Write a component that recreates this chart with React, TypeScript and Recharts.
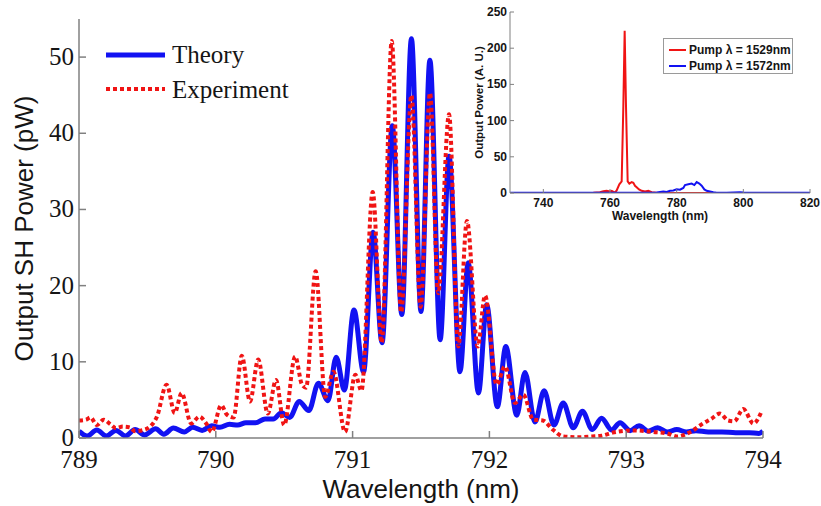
import React from 'react';
import { LineChart, Line, XAxis, YAxis, Legend } from 'recharts';

// main plot: SH power vs wavelength
const theoryWavelength = [
  789.0, 789.06, 789.13, 789.2, 789.27, 789.34, 789.41, 789.48, 789.56, 789.62,
  789.69, 789.77, 789.83, 789.9, 789.97, 790.03, 790.1, 790.16, 790.22, 790.29,
  790.36, 790.42, 790.48, 790.54, 790.61, 790.68, 790.75, 790.82, 790.88, 790.94,
  791.01, 791.08, 791.15, 791.215, 791.29, 791.36, 791.43, 791.5, 791.565, 791.64,
  791.705, 791.785, 791.845, 791.92, 791.98, 792.058, 792.12, 792.2, 792.26, 792.333,
  792.4, 792.472, 792.54, 792.613, 792.68, 792.752, 792.82, 792.893, 792.955, 793.028,
  793.094, 793.16, 793.23, 793.3, 793.37, 793.44, 793.51, 793.6, 793.7, 793.8,
  793.9, 793.97, 794.0,
];
const theoryPower = [
  0.9, 0.26, 1.05, 0.26, 1.0, 0.26, 1.1, 0.4, 1.2, 0.5,
  1.3, 0.8, 1.4, 1.0, 1.6, 1.4, 1.8, 1.7, 2.0, 2.0,
  2.5, 2.5, 3.3, 2.7, 4.8, 3.6, 7.2, 4.9, 10.6, 6.3,
  16.8, 8.7, 27, 12.5, 41, 16.2, 52.4, 16.6, 49.6, 12.9,
  37, 8.7, 23, 5.9, 17.5, 4.1, 12, 3.0, 8.6, 2.1,
  6.2, 1.7, 4.6, 1.35, 3.5, 1.1, 2.6, 1.05, 2.0, 0.96,
  1.6, 0.9, 1.35, 0.8, 1.1, 0.8, 0.95, 0.8, 0.8, 0.7,
  0.7, 0.6, 0.9,
];

const experimentWavelength = [
  789.0, 789.05, 789.085, 789.13, 789.18, 789.23, 789.27, 789.32, 789.37, 789.41,
  789.48, 789.52, 789.57, 789.64, 789.7, 789.75, 789.82, 789.88, 789.93, 789.97,
  790.04, 790.08, 790.13, 790.19, 790.25, 790.31, 790.38, 790.44, 790.5, 790.58,
  790.63, 790.66, 790.73, 790.8, 790.86, 790.945, 791.02, 791.065, 791.147, 791.213,
  791.286, 791.355, 791.43, 791.497, 791.566, 791.626, 791.705, 791.773, 791.836, 791.915,
  791.968, 792.053, 792.114, 792.187, 792.248, 792.32, 792.39, 792.467, 792.54, 792.65,
  792.75, 792.82, 792.9, 793.05, 793.2, 793.3, 793.37, 793.47, 793.56, 793.62,
  793.685, 793.746, 793.79, 793.856, 793.93, 793.99,
];
const experimentPower = [
  2.3, 2.4, 2.7, 1.7, 2.4, 1.8, 1.3, 1.5, 1.4, 0.9,
  1.1, 1.5, 2.8, 7.0, 3.3, 5.9, 1.9, 2.8, 1.9, 0.8,
  4.3, 3.1, 2.7, 10.8, 4.8, 10.3, 3.2, 7.6, 1.7, 10.7,
  7.0, 6.6, 21.9, 5.4, 8.7, 0.8, 8.3, 6.2, 32.3, 12.5,
  52.1, 16.5, 45, 17.2, 45.3, 19, 42.5, 12, 28.5, 12,
  18.7, 7.0, 9.4, 4.6, 5.7, 2.4, 2.3, 1.05, 0.2, 0.1,
  0.2, 0.3, 0.7, 1.0, 0.8, 0.6, 0.2, 0.8, 1.9, 2.5,
  3.2, 2.3, 2.2, 3.8, 1.9, 3.5,
];

const mainXTicks = [789, 790, 791, 792, 793, 794];
const mainYTicks = [0, 10, 20, 30, 40, 50];

// inset: output power for the two pump wavelengths
const pump1529Wavelength = [
  730, 740, 750, 755, 757, 758, 759, 760, 760.5, 761.5, 762, 762.8, 763.5, 764,
  764.4, 764.8, 765.3, 765.8, 766.5, 767, 767.5, 768, 768.7, 769.5, 770.5, 771.5,
  772.5, 774, 776, 790, 800, 820,
];
const pump1529Power = [
  0, 0, 0, 0.3, 1, 2.5, 3, 2, 3, 0.5, 3.5, 12, 16, 120,
  224, 120, 16, 13, 15, 14, 10, 8, 5, 3, 2, 3,
  1, 0.3, 0, 0, 0, 0,
];
const pump1572Wavelength = [
  730, 750, 760, 770, 774, 776, 777, 778, 779, 780, 781, 782, 782.5, 783.5,
  784.5, 785.3, 786, 786.8, 787.5, 788.3, 789, 790, 791, 792, 795, 799, 800, 805, 820,
];
const pump1572Power = [
  0.3, 0.3, 0.3, 0.5, 0.8, 2, 1.5, 3, 3.5, 5, 4.5, 7, 11, 12,
  13, 11, 15, 13, 10, 5, 3, 2, 1, 0.5, 0.5, 1, 0.6, 0.3, 0.3,
];
const insetXTicks = [740, 760, 780, 800, 820];
const insetYTicks = [0, 50, 100, 150, 200, 250];

const zip = (xs: number[], ys: number[]) => xs.map((x, i) => ({ x, y: ys[i] }));

const theory = zip(theoryWavelength, theoryPower);
const experiment = zip(experimentWavelength, experimentPower);
const pump1529 = zip(pump1529Wavelength, pump1529Power);
const pump1572 = zip(pump1572Wavelength, pump1572Power);

const SERIF = '"Liberation Serif", "Times New Roman", serif';
const SANS = '"Liberation Sans", Arial, sans-serif';
const AXIS_GREY = '#808080';
const TEXT = '#151515';
const BLUE = '#1212f2';
const RED = '#f01414';

const MainXTick = ({ x, y, payload }: any) => (
  <g>
    <line x1={x} x2={x} y1={y} y2={y - 7} stroke={AXIS_GREY} strokeWidth={1.5} />
    <text x={x} y={y + 30} textAnchor="middle" fontFamily={SERIF} fontSize={25} fill={TEXT}>
      {payload.value}
    </text>
  </g>
);

const MainYTick = ({ x, y, payload }: any) => (
  <g>
    <line x1={x} x2={x + 7} y1={y} y2={y} stroke={AXIS_GREY} strokeWidth={1.5} />
    <text x={x - 5} y={y + 8} textAnchor="end" fontFamily={SERIF} fontSize={25} fill={TEXT}>
      {payload.value}
    </text>
  </g>
);

const InsetXTick = ({ x, y, payload }: any) => (
  <g>
    <line x1={x} x2={x} y1={y} y2={y - 4} stroke={AXIS_GREY} />
    <text x={x} y={y + 14} textAnchor="middle" fontFamily={SANS} fontWeight="bold" fontSize={12} fill={TEXT}>
      {payload.value}
    </text>
  </g>
);

const InsetYTick = ({ x, y, payload }: any) => (
  <g>
    <line x1={x} x2={x + 4} y1={y} y2={y} stroke={AXIS_GREY} />
    <text x={x - 3} y={y + 4} textAnchor="end" fontFamily={SANS} fontWeight="bold" fontSize={12} fill={TEXT}>
      {payload.value}
    </text>
  </g>
);

const InsetTopTick = ({ x, y }: any) => (
  <line x1={x} x2={x} y1={y} y2={y + 4} stroke={AXIS_GREY} />
);

const InsetRightTick = ({ x, y }: any) => (
  <line x1={x} x2={x - 4} y1={y} y2={y} stroke={AXIS_GREY} />
);

const MainLegend = () => (
  <svg width={220} height={75}>
    <line x1={6} x2={65} y1={25} y2={25} stroke={BLUE} strokeWidth={5} />
    <text x={72} y={33} fontFamily={SERIF} fontSize={25} fill={TEXT}>Theory</text>
    <line x1={6} x2={65} y1={59} y2={59} stroke={RED} strokeWidth={4} strokeDasharray="4 3" />
    <text x={72} y={68} fontFamily={SERIF} fontSize={25} fill={TEXT}>Experiment</text>
  </svg>
);

const InsetLegend = () => (
  <div style={{ width: 128, height: 34, border: '1px solid #9a9a9a', background: '#fff' }}>
    <svg width={128} height={34}>
      <line x1={5} x2={22} y1={11} y2={11} stroke={RED} strokeWidth={2} />
      <text x={25} y={15} fontFamily={SANS} fontWeight="bold" fontSize={12} fill={TEXT}>Pump λ = 1529nm</text>
      <line x1={5} x2={22} y1={27} y2={27} stroke={BLUE} strokeWidth={2} />
      <text x={25} y={31} fontFamily={SANS} fontWeight="bold" fontSize={12} fill={TEXT}>Pump λ = 1572nm</text>
    </svg>
  </div>
);

export default function App() {
  return (
    <div style={{ position: 'absolute', left: 0, top: 0, width: 821, height: 506, background: '#fff' }}>
      <LineChart width={821} height={506} margin={{ top: 19, right: 58, bottom: 0, left: 0 }}>
        <XAxis
          type="number"
          dataKey="x"
          domain={[789, 794]}
          ticks={mainXTicks}
          interval={0}
          allowDataOverflow
          height={68}
          axisLine={{ stroke: AXIS_GREY, strokeWidth: 1.5 }}
          tickLine={false}
          tickSize={0}
          tickMargin={0}
          tick={(p: any) => <MainXTick {...p} />}
          label={{ value: 'Wavelength (nm)', position: 'insideBottom', offset: 8, fontFamily: SANS, fontSize: 26, fill: TEXT }}
        />
        <YAxis
          type="number"
          domain={[0, 55]}
          ticks={mainYTicks}
          interval={0}
          allowDataOverflow
          width={79}
          axisLine={{ stroke: AXIS_GREY, strokeWidth: 1.5 }}
          tickLine={false}
          tickSize={0}
          tickMargin={0}
          tick={(p: any) => <MainYTick {...p} />}
          label={{
            value: 'Output SH Power (pW)',
            angle: -90,
            position: 'insideLeft',
            offset: 24,
            fontFamily: SANS,
            fontSize: 26,
            fill: TEXT,
            style: { textAnchor: 'middle' },
          }}
        />
        <Legend
          layout="vertical"
          align="center"
          verticalAlign="middle"
          wrapperStyle={{ left: 100, top: 30, width: 220 }}
          content={() => <MainLegend />}
        />
        <Line data={theory} dataKey="y" type="monotone" stroke={BLUE} strokeWidth={5} dot={false} isAnimationActive={false} />
        <Line
          data={experiment}
          dataKey="y"
          type="monotone"
          stroke={RED}
          strokeWidth={4}
          strokeDasharray="4 3"
          dot={false}
          isAnimationActive={false}
        />
      </LineChart>

      <div style={{ position: 'absolute', left: 460, top: 0 }}>
        <LineChart width={361} height={230} margin={{ top: 12, right: 11, bottom: 0, left: 0 }}>
          <XAxis
            xAxisId="b"
            type="number"
            dataKey="x"
            domain={[730, 820]}
            ticks={insetXTicks}
            interval={0}
            allowDataOverflow
            height={37}
            axisLine={{ stroke: AXIS_GREY }}
            tickLine={false}
            tickSize={0}
            tickMargin={0}
            tick={(p: any) => <InsetXTick {...p} />}
            label={{ value: 'Wavelength (nm)', position: 'insideBottom', offset: 10, fontFamily: SANS, fontWeight: 'bold', fontSize: 12, fill: TEXT }}
          />
          <XAxis
            xAxisId="t"
            orientation="top"
            type="number"
            dataKey="x"
            domain={[730, 820]}
            ticks={insetXTicks}
            interval={0}
            allowDataOverflow
            height={0}
            axisLine={{ stroke: AXIS_GREY }}
            tickLine={false}
            tickSize={0}
            tickMargin={0}
            tick={(p: any) => <InsetTopTick {...p} />}
          />
          <YAxis
            yAxisId="l"
            type="number"
            domain={[0, 250]}
            ticks={insetYTicks}
            interval={0}
            allowDataOverflow
            width={50}
            axisLine={{ stroke: AXIS_GREY }}
            tickLine={false}
            tickSize={0}
            tickMargin={0}
            tick={(p: any) => <InsetYTick {...p} />}
            label={{
              value: 'Output Power (A. U.)',
              angle: -90,
              position: 'insideLeft',
              offset: 19,
              fontFamily: SANS,
              fontWeight: 'bold',
              fontSize: 11.5,
              fill: TEXT,
              style: { textAnchor: 'middle' },
            }}
          />
          <YAxis
            yAxisId="r"
            orientation="right"
            type="number"
            domain={[0, 250]}
            ticks={insetYTicks}
            interval={0}
            allowDataOverflow
            width={0}
            axisLine={{ stroke: AXIS_GREY }}
            tickLine={false}
            tickSize={0}
            tickMargin={0}
            tick={(p: any) => <InsetRightTick {...p} />}
          />
          <Legend
            layout="vertical"
            align="center"
            verticalAlign="middle"
            wrapperStyle={{ left: 203, top: 38, width: 130 }}
            content={() => <InsetLegend />}
          />
          <Line xAxisId="b" yAxisId="l" data={pump1529} dataKey="y" type="linear" stroke={RED} strokeWidth={2} dot={false} isAnimationActive={false} />
          <Line xAxisId="b" yAxisId="l" data={pump1572} dataKey="y" type="linear" stroke={BLUE} strokeWidth={2} dot={false} isAnimationActive={false} />
          <Line xAxisId="t" yAxisId="r" data={pump1572} dataKey="y" stroke="none" dot={false} legendType="none" isAnimationActive={false} />
        </LineChart>
      </div>
    </div>
  );
}
